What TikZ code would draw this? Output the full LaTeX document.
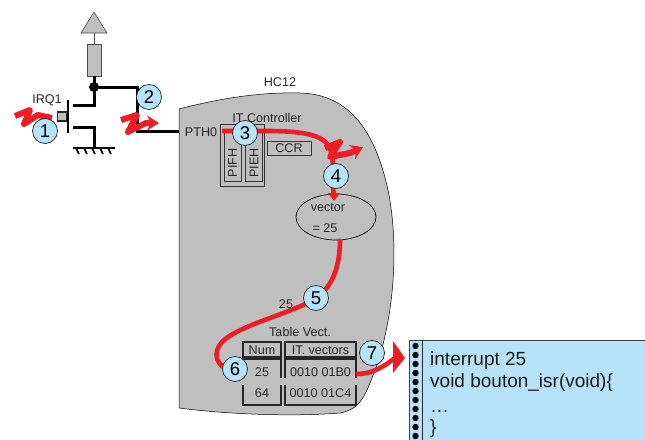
\documentclass[tikz,border=0pt]{standalone}
\usepackage{fontspec}
\setmainfont{Liberation Sans}
\usetikzlibrary{arrows.meta}
\definecolor{chipgray}{HTML}{BFBFBF}
\definecolor{hotred}{HTML}{EE1C25}
\definecolor{softcyan}{HTML}{B6E3FA}
\definecolor{inkgray}{HTML}{333333}
\tikzset{
  lbl/.style={font=\fontsize{12.6}{14}\selectfont, text=black!85, inner sep=0pt},
  codeline/.style={anchor=base west, inner sep=0pt, font=\fontsize{19}{22}\selectfont, text=black!90},
  wire/.style={black, line width=3pt},
  tablepen/.style={black!85, line width=1.8pt},
  thinbox/.style={draw=inkgray, line width=.9pt, inner sep=0pt},
  redflow/.style={hotred, line width=4.6pt},
  zigzag/.style={hotred, line width=6pt, line join=round},
  badge/.style={circle, draw=black!85, fill=softcyan, line width=.7pt, minimum size=25pt, inner sep=0pt, font=\fontsize{18.5}{20}\selectfont},
}
\begin{document}
\begin{tikzpicture}[>=stealth, line cap=butt, x=1pt, y=-1pt]
\useasboundingbox (0,0) rectangle (645,439);

% --- layout helpers ---
\def\TL{243}    % left edge of table
\def\TM{281}    % num column right
\def\TV{285}    % vector column left
\def\TR{356}    % right edge of table

% --- small macro for each numbered disc: name, x, y, number
\newcommand{\discitem}[4]{%
  \node[badge] (#1) at (#2,#3) {#4};
}

% --- chip body ---
\draw[fill=chipgray, draw=black, line width=.5pt] (179,109)
  .. controls (225,97) and (265,92) .. (300,93)
  .. controls (345,94) and (375,125) .. (389,195)
  .. controls (400,255) and (392,330) .. (372,378)
  .. controls (363,402) and (356,410) .. (340,413)
  .. controls (290,417) and (225,414) .. (179,408) -- cycle;
\node[lbl] (hc) at (280,82) {HC12};
\node[lbl] (pth) at (201,132) {PTH0};

% --- pull-up and switch ---
\coordinate (junction) at (94,87);
\coordinate (corner) at (137,87);
\coordinate (bend) at (137,131);
\coordinate (pin) at (179,131);
\coordinate (vccbase) at (94,33);
\node[draw=black!70, fill=chipgray, minimum width=14pt, minimum height=32pt, inner sep=0pt, line width=.6pt] (res) at (94,60) {};
\draw[draw=black!70, fill=chipgray, line width=.6pt] (94,12) -- (107,33) -- (81,33) -- cycle;
\draw[black!70, line width=.8pt] (vccbase) -- (res.north);
\draw[wire] (res.south) -- (94,105) -- (73,105);
\draw[wire] (73,127) -- (94,127) -- (94,148);
\draw[wire] (junction) -- (corner) -- (bend) -- (pin);
\fill[black] (junction) circle (5);
\draw[black, line width=1.8pt] (68,100) -- (68,133);
\node[draw=black!85, fill=chipgray, minimum width=9pt, minimum height=9pt, inner sep=0pt, line width=1.2pt] (gate) at (62,116.5) {};
\node[lbl] (irq) at (47,100) {IRQ1};
\draw[black, line width=1.4pt] (73,148) -- (115,148);
\foreach \hx in {76,84,92,100,108}
  \draw[black, line width=1.6pt] (\hx,148) -- (\hx+3,154);

% --- interrupt controller ---
\node[lbl] (itc) at (267,118) {IT Controller};
\node[thinbox, minimum width=44pt, minimum height=62pt] (itbox) at (242,155) {};
\node[thinbox, minimum width=17pt, minimum height=50pt] (pifh) at (232.5,156) {};
\node[thinbox, minimum width=17pt, minimum height=50pt] (pieh) at (254,156) {};
\node[lbl, rotate=90] at (232.5,163) {PIFH};
\node[lbl, rotate=90] at (254,163) {PIEH};
\node[lbl, thinbox, minimum width=44pt, minimum height=14pt] (ccr) at (289,148) {CCR};

% --- vector ellipse ---
\coordinate (vec) at (334,201);
\draw[redflow] (333,170) -- (333.5,194);
\draw[black, line width=.7pt] (336,217) ellipse (40 and 23);
\fill[hotred] (328,193) -- (340,193) -- (vec) -- cycle;
\node[lbl] at (328,207) {vector};
\node[lbl] at (325,228) {= 25};

% --- vector table ---
\node[lbl] (tv) at (300,332) {Table Vect.};
\node[lbl] at (262,350) {Num};
\node[lbl] at (320.5,350) {IT. vectors};
\node[lbl] at (262,372) {25};
\node[lbl] at (320.5,372) {0010 01B0};
\node[lbl] at (262,393) {64};
\node[lbl] at (320.5,393) {0010 01C4};
\node[lbl] at (286,304) {25};
\draw[tablepen] (\TL,342) rectangle (\TM,357);
\draw[tablepen] (\TV,342) rectangle (\TR,357);
\draw[tablepen] (\TL,378) -- (\TL,359) -- (\TM,359) -- (\TM,378);
\draw[tablepen] (\TV,378) -- (\TV,359) -- (\TR,359) -- (\TR,378);
\draw[tablepen] (\TL,385) -- (\TL,405) -- (\TM,405) -- (\TM,385);
\draw[tablepen] (\TV,385) -- (\TV,405) -- (\TR,405) -- (\TR,385);

% --- routine listing ---
\node[draw=black!75, fill=softcyan, line width=.8pt, anchor=north west, minimum width=236pt, minimum height=110pt, inner sep=0pt] (code) at (409,340) {};
\draw[black!85, line width=.8pt] (422,340) -- (422,445);
\foreach \dy in {346,355,...,440}
  \fill[black] (415.5,\dy) circle (3.2);
\node[codeline] at (430,365) {interrupt 25};
\node[codeline] at (430,387) {void bouton\_isr(void)\{};
\node[codeline] at (430,412) {…};
\node[codeline] at (430,433) {\}};

% --- red flow ---
\draw[redflow] (222,131) -- (265,131) .. controls (295,131) and (320,133) .. (328,145) .. controls (332,152) and (333,160) .. (333,170);
\draw[redflow] (340,239) .. controls (340,262) and (335,285) .. (316,298)
  .. controls (295,312) and (250,322) .. (228,337)
  .. controls (212,348) and (214,362) .. (226,369);
\draw[redflow] (356,374) .. controls (368,374) and (378,371) .. (395,358);
\fill[hotred] (393,341) -- (405,358) -- (393,373) -- cycle;

% --- zigzag arrows ---
\draw[zigzag] (15,116) -- (30,110) -- (24,124) -- (38,115) -- (52,118);
\draw[zigzag, -{Stealth[length=12pt,width=15pt]}] (121,120) -- (137,115) -- (128,132) -- (146,123) -- (159,123);
\draw[zigzag, -{Stealth[length=12pt,width=15pt]}] (325,148) -- (340,142) -- (330,157) -- (350,153) -- (363,147);

% --- numbered discs ---
\discitem{one}{45}{131}{1}
\discitem{two}{149}{97}{2}
\discitem{three}{245}{133}{3}
\discitem{four}{336}{176}{4}
\discitem{five}{316}{298}{5}
\discitem{six}{235}{369}{6}
\discitem{seven}{372}{353}{7}

\end{tikzpicture}
\end{document}
